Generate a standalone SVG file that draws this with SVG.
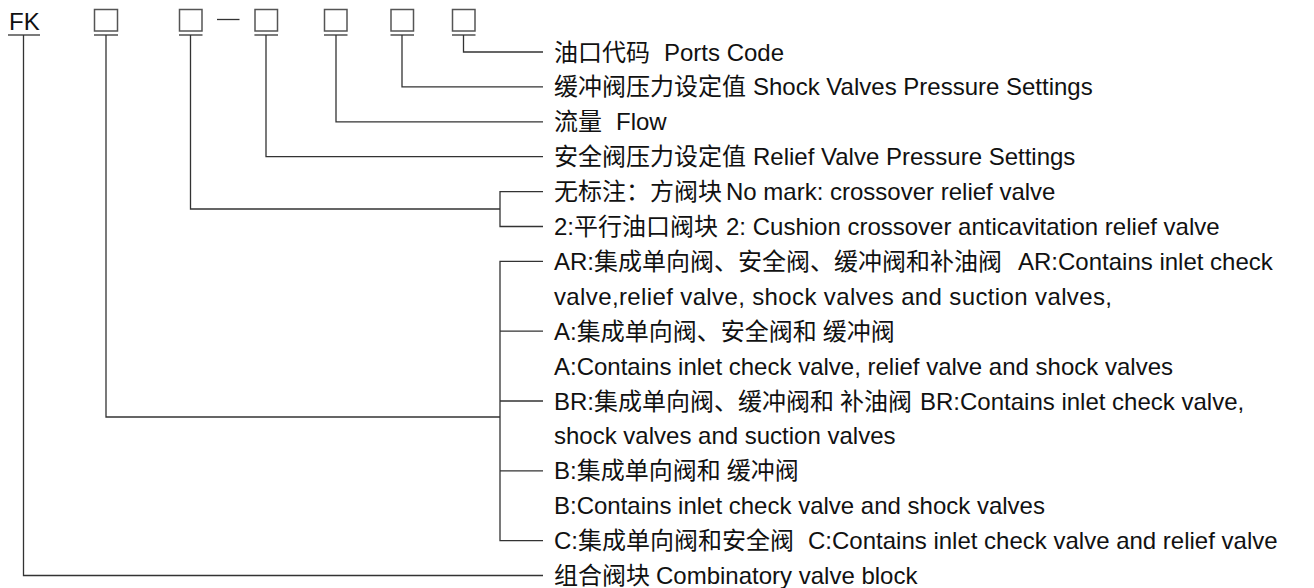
<svg xmlns="http://www.w3.org/2000/svg" width="1314" height="588" viewBox="0 0 1314 588">
<style>
.t{font-family:"Liberation Sans","Noto Sans CJK SC",sans-serif;font-size:24px;fill:#111}
.bx{fill:none;stroke:#555;stroke-width:1.5}
.ln{fill:none;stroke:#333;stroke-width:1.3}
</style>
<rect width="1314" height="588" fill="#fff"/>
<g id="code">
  <g id="fk"><text class="t" x="9" y="30" font-size="23">FK</text><path class="ln" d="M8 35H40"/></g>
  <g id="box1"><rect class="bx" x="94.5" y="9.5" width="23" height="21.5"/><path class="ln" d="M94 35H118"/></g>
  <g id="box2"><rect class="bx" x="179.5" y="9.5" width="22.5" height="21.5"/><path class="ln" d="M179 35H202.5"/></g>
  <g id="dash"><path class="ln" d="M217 19.5H239.5"/></g>
  <g id="box3"><rect class="bx" x="255" y="9.5" width="22.5" height="21.5"/><path class="ln" d="M254.5 35H278"/></g>
  <g id="box4"><rect class="bx" x="324.5" y="9.5" width="22.5" height="21.5"/><path class="ln" d="M324 35H347.5"/></g>
  <g id="box5"><rect class="bx" x="391" y="9.5" width="22.5" height="21.5"/><path class="ln" d="M390.5 35H414"/></g>
  <g id="box6"><rect class="bx" x="452.5" y="9.5" width="22.5" height="21.5"/><path class="ln" d="M452 35H475.5"/></g>
</g>
<g id="connectors">
  <path class="ln" d="M463.5 35V52H543"/>
  <path class="ln" d="M402 35V86.9H543"/>
  <path class="ln" d="M336 35V121.8H543"/>
  <path class="ln" d="M266 35V156.7H543"/>
  <path class="ln" d="M190.5 35V209H500"/>
  <path class="ln" d="M543 191.6H500V226.5H543"/>
  <path class="ln" d="M106 35V417H500"/>
  <path class="ln" d="M543 261.4H500V540.6H543M500 331.2H543M500 401H543M500 470.8H543"/>
  <path class="ln" d="M23.5 35V575.5H543"/>
</g>
<g id="labels">
  <g id="l1"><text class="t" x="554" y="60.5">油口代码<tspan dx="14">Ports Code</tspan></text></g>
  <g id="l2"><text class="t" x="554" y="95.4">缓冲阀压力设定值<tspan dx="7">Shock Valves Pressure Settings</tspan></text></g>
  <g id="l3"><text class="t" x="554" y="130.3">流量<tspan dx="14">Flow</tspan></text></g>
  <g id="l4"><text class="t" x="554" y="165.2">安全阀压力设定值<tspan dx="7">Relief Valve Pressure Settings</tspan></text></g>
  <g id="l5"><text class="t" x="554" y="200.1">无标注：方阀块<tspan dx="4">No mark: crossover relief valve</tspan></text></g>
  <g id="l6"><text class="t" x="554" y="235">2:平行油口阀块<tspan dx="8">2: Cushion crossover anticavitation relief valve</tspan></text></g>
  <g id="l7"><text class="t" x="554" y="269.9">AR:集成单向阀、安全阀、缓冲阀和补油阀<tspan dx="16">AR:Contains inlet check</tspan></text></g>
  <g id="l8"><text class="t" x="554" y="304.8" textLength="558" lengthAdjust="spacing">valve,relief valve, shock valves and suction valves,</text></g>
  <g id="l9"><text class="t" x="554" y="339.7">A:集成单向阀、安全阀和<tspan dx="6">缓冲阀</tspan></text></g>
  <g id="l10"><text class="t" x="554" y="374.6">A:Contains inlet check valve, relief valve and shock valves</text></g>
  <g id="l11"><text class="t" x="554" y="409.5">BR:集成单向阀、缓冲阀和<tspan dx="6">补油阀</tspan><tspan dx="8">BR:Contains inlet check valve,</tspan></text></g>
  <g id="l12"><text class="t" x="554" y="444.4">shock valves and suction valves</text></g>
  <g id="l13"><text class="t" x="554" y="479.3">B:集成单向阀和<tspan dx="6">缓冲阀</tspan></text></g>
  <g id="l14"><text class="t" x="554" y="514.2">B:Contains inlet check valve and shock valves</text></g>
  <g id="l15"><text class="t" x="554" y="549.1">C:集成单向阀和安全阀<tspan dx="14">C:Contains inlet check valve and relief valve</tspan></text></g>
  <g id="l16"><text class="t" x="554" y="584">组合阀块<tspan dx="6">Combinatory valve block</tspan></text></g>
</g>
</svg>
